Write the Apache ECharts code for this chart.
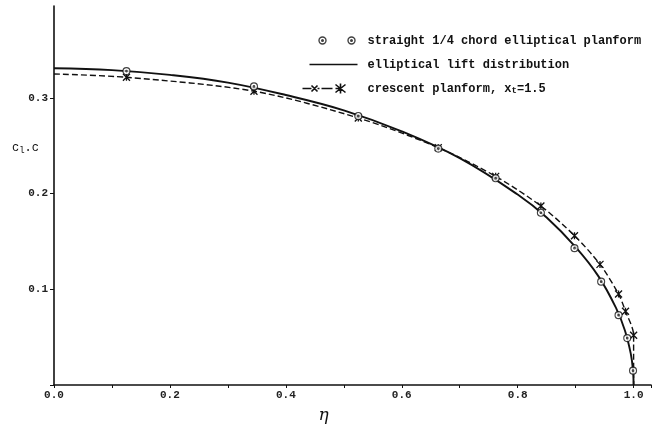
<!DOCTYPE html>
<html>
<head>
<meta charset="utf-8">
<script src="https://cdn.jsdelivr.net/npm/echarts@6/dist/echarts.min.js"></script>
<style>
html,body{margin:0;padding:0;background:#fff;}
#chart{width:656px;height:432px;}
</style>
</head>
<body>
<div id="chart"></div>
<script>
// tick labels
var xTicks = [0.0, 0.2, 0.4, 0.6, 0.8, 1.0];
var yTicks = [0.1, 0.2, 0.3];

// elliptical lift distribution (solid line)
var ellEta = [0.0, 0.1, 0.2, 0.3, 0.4, 0.5, 0.6, 0.7, 0.8, 0.85, 0.9, 0.94, 0.97, 0.985, 0.995, 0.999, 1.0];
var ellVal = [0.331, 0.329, 0.324, 0.316, 0.303, 0.287, 0.265, 0.237, 0.199, 0.175, 0.144, 0.113, 0.080, 0.057, 0.033, 0.015, 0.0];

// straight 1/4 chord elliptical planform (circles)
var straightEta = [0.125, 0.345, 0.525, 0.663, 0.762, 0.840, 0.898, 0.944, 0.974, 0.989, 0.999];
var straightVal = [0.328, 0.312, 0.281, 0.247, 0.216, 0.180, 0.143, 0.108, 0.073, 0.049, 0.015];

// crescent planform, xt=1.5 (dashed with crosses)
var crescentEta = [0.0, 0.125, 0.345, 0.525, 0.663, 0.762, 0.840, 0.898, 0.942, 0.974, 0.986, 1.0, 1.0];
var crescentVal = [0.325, 0.3215, 0.307, 0.279, 0.248, 0.218, 0.187, 0.156, 0.126, 0.095, 0.077, 0.052, 0.0];
var crescentMarked = [false, true, true, true, true, true, true, true, true, true, true, true, false];

var names = ['straight 1/4 chord elliptical planform', 'elliptical lift distribution', 'crescent planform, x_t=1.5'];

var INK = '#111';
var FONT = 'Liberation Mono';
var crossPath = 'path://M0,0L8,8M8,0L0,8M4,0L4,8';
var ringPath = 'path://M8,4A4,4,0,1,1,0,4A4,4,0,1,1,8,4ZM4.9,4A0.9,0.9,0,1,1,3.1,4A0.9,0.9,0,1,1,4.9,4Z';

var chart = echarts.init(document.getElementById('chart'), null, {renderer: 'canvas'});

function pairs(a, b) { return a.map(function (v, i) { return [v, b[i]]; }); }

var crescentData = crescentEta.map(function (v, i) {
  var d = {value: [v, crescentVal[i]]};
  if (!crescentMarked[i]) d.symbol = 'none';
  return d;
});

var option = {
  backgroundColor: '#fff',
  animation: false,
  grid: {left: 54, right: 5, top: 6, bottom: 47, containLabel: false, outerBoundsMode: 'none'},
  legend: {
    orient: 'vertical',
    left: 295,
    top: 26,
    itemWidth: 55,
    itemHeight: 14,
    itemGap: 5,
    textStyle: {fontFamily: FONT, fontSize: 12, fontWeight: 'bold', color: INK, lineHeight: 14, padding: [0, 0, 0, 5],
      rich: {sub: {fontFamily: FONT, fontSize: 9, fontWeight: 'bold', color: INK, lineHeight: 14, verticalAlign: 'bottom', padding: [5, 0, 0, 0]}}},
    formatter: function (n) {
      if (n === names[2]) return 'crescent planform, x{sub|t}=1.5';
      return n;
    },
    data: [
      {name: names[0], icon: 'path://M0,0M55,14M23.5,7A3.5,3.5,0,1,1,16.5,7A3.5,3.5,0,1,1,23.5,7ZM20.8,7A0.8,0.8,0,1,1,19.2,7A0.8,0.8,0,1,1,20.8,7ZM52.5,7A3.5,3.5,0,1,1,45.5,7A3.5,3.5,0,1,1,52.5,7ZM49.8,7A0.8,0.8,0,1,1,48.2,7A0.8,0.8,0,1,1,49.8,7Z',
        itemStyle: {color: 'none', borderColor: INK, borderWidth: 1.4}},
      {name: names[1], icon: 'path://M0,0M55,14M7,7L55,7', itemStyle: {color: 'none', borderColor: INK, borderWidth: 1.3}},
      {name: names[2], icon: 'path://M0,0M55,14M0,7L9,7M9,4L15,10M15,4L9,10M15,7L17,7M19,7L30,7M33,7L38,7M33,3L43,11M43,3L33,11M38,2L38,12',
        itemStyle: {color: 'none', borderColor: INK, borderWidth: 1.6}}
    ]
  },
  xAxis: {
    type: 'value', min: 0, max: 1.03, interval: 0.2,
    name: 'η', nameLocation: 'middle', nameGap: 22, nameMoveOverlap: false,
    nameTextStyle: {fontFamily: 'DejaVu Serif', fontStyle: 'italic', fontSize: 17, color: INK, padding: [0, 58, 0, 0]},
    axisLine: {lineStyle: {color: INK, width: 1.6}},
    axisTick: {show: true, length: 3, lineStyle: {color: INK, width: 1}},
    minorTick: {show: true, splitNumber: 2, length: 3, lineStyle: {color: INK, width: 1}},
    splitLine: {show: false},
    axisLabel: {
      showMaxLabel: false, margin: 5,
      fontFamily: FONT, fontSize: 11, fontWeight: 'bold', color: '#222',
      formatter: function (v) {
        for (var i = 0; i < xTicks.length; i++) if (Math.abs(v - xTicks[i]) < 1e-6) return xTicks[i].toFixed(1);
        return '';
      }
    }
  },
  yAxis: {
    type: 'value', min: 0, max: 0.396, interval: 0.1,
    name: 'c{sub|l}.c', nameLocation: 'middle', nameGap: 15, nameRotate: 0, nameMoveOverlap: false,
    nameTextStyle: {fontFamily: FONT, fontSize: 12, color: INK, padding: [0, 0, 96, 0],
      rich: {sub: {fontFamily: FONT, fontSize: 9, color: INK, padding: [6, 0, 0, 0]}}},
    axisLine: {show: true, lineStyle: {color: INK, width: 1.6}},
    axisTick: {show: true, length: 4, lineStyle: {color: INK, width: 1}},
    splitLine: {show: false},
    axisLabel: {
      showMaxLabel: false, margin: 6,
      fontFamily: FONT, fontSize: 11, fontWeight: 'bold', color: '#222',
      formatter: function (v) {
        for (var i = 0; i < yTicks.length; i++) if (Math.abs(v - yTicks[i]) < 1e-6) return yTicks[i].toFixed(1);
        return '';
      }
    }
  },
  series: [
    {
      name: names[1], type: 'line', data: pairs(ellEta, ellVal),
      smooth: 0.4, showSymbol: false, symbol: 'none',
      lineStyle: {color: INK, width: 1.9}, itemStyle: {color: INK}, z: 3
    },
    {
      name: names[2], type: 'line', data: crescentData,
      smooth: 0.3, symbol: crossPath, symbolSize: 7, showSymbol: true,
      lineStyle: {color: INK, width: 1.4, type: [6, 3]},
      itemStyle: {color: 'none', borderColor: INK, borderWidth: 1.3}, z: 2
    },
    {
      name: names[0], type: 'scatter', data: pairs(straightEta, straightVal),
      symbol: ringPath, symbolSize: 7,
      itemStyle: {color: '#fff', borderColor: INK, borderWidth: 1.1}, z: 4
    }
  ]
};
chart.setOption(option);
</script>
</body>
</html>
